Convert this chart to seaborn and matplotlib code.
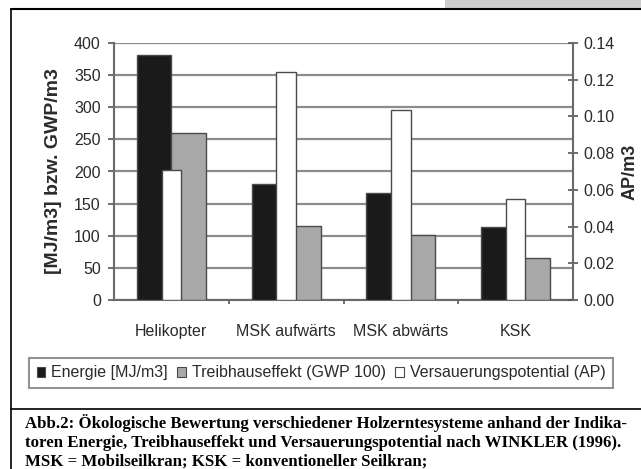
import matplotlib
matplotlib.use("Agg")
import matplotlib.pyplot as plt
import seaborn as sns
import pandas as pd
from matplotlib.lines import Line2D
from matplotlib.patches import Rectangle, Patch
from matplotlib.ticker import FixedLocator

# ---- data ----
categories = ["Helikopter", "MSK aufwärts", "MSK abwärts", "KSK"]
energie = [381, 180, 167, 113]          # MJ/m3 (left axis)
treibhaus = [260, 115, 101, 66]         # GWP/m3 (left axis)
versauerung = [0.071, 0.124, 0.1035, 0.055]  # AP/m3 (right axis)
left_ticks = [0, 50, 100, 150, 200, 250, 300, 350, 400]
right_ticks = [0.00, 0.02, 0.04, 0.06, 0.08, 0.10, 0.12, 0.14]
series_names = ["Energie [MJ/m3]", "Treibhauseffekt (GWP 100)", "Versauerungspotential (AP)"]
caption = ("Abb.2: Ökologische Bewertung verschiedener Holzerntesysteme anhand der Indika-\n"
           "toren Energie, Treibhauseffekt und Versauerungspotential nach WINKLER (1996).\n"
           "MSK = Mobilseilkran; KSK = konventioneller Seilkran;")

sns.set_style("white")
plt.rcParams["font.family"] = ["Liberation Sans", "DejaVu Sans"]

W, H = 641, 469
fig = plt.figure(figsize=(W / 100, H / 100), dpi=100)
fig.patch.set_facecolor("white")

def fx(x):
    return x / W

def fy(y):
    return 1 - y / H

ax = fig.add_axes([fx(114), fy(300), fx(573) - fx(114), fy(43) - fy(300)])
ax.set_facecolor("none")

black_c = "#1a1a1a"
grey_c = "#a8a8a8"
edge_c = "#4a4a4a"
text_c = "#2a2a2a"
grid_c = "#8c8c8c"

df = pd.DataFrame({
    "cat": categories * 2,
    "val": energie + treibhaus,
    "series": [series_names[0]] * 4 + [series_names[1]] * 4,
})
sns.barplot(data=df, x="cat", y="val", hue="series", order=categories,
            hue_order=series_names[:2], palette=[black_c, grey_c],
            width=0.6, gap=0, edgecolor=edge_c, linewidth=1.0,
            saturation=1, ax=ax, legend=False, zorder=3)

ax.set_ylim(0, 400)
ax.set_xlim(-0.5, 3.5)
ax.set_yticks(left_ticks)
ax.set_yticklabels([str(t) for t in left_ticks])
ax.yaxis.grid(True, color=grid_c, linewidth=1.6, zorder=0)
ax.set_axisbelow(True)
ax.set_xlabel("")
ax.set_ylabel("[MJ/m3] bzw. GWP/m3", fontsize=14, fontweight="bold", color=text_c, labelpad=9)

for s in ["top", "right"]:
    ax.spines[s].set_visible(False)
ax.spines["left"].set_color("#6a6a6a")
ax.spines["left"].set_linewidth(1.5)
ax.spines["bottom"].set_color("#6a6a6a")
ax.spines["bottom"].set_linewidth(1.5)

ax.tick_params(axis="y", direction="out", length=4.5, width=1.2, color="#555555",
               labelsize=11.5, labelcolor=text_c, pad=5, left=True)
ax.tick_params(axis="x", which="major", length=0, labelsize=11.5, labelcolor=text_c, pad=17)
ax.xaxis.set_minor_locator(FixedLocator([0.5, 1.5, 2.5]))
ax.tick_params(axis="x", which="minor", direction="out", length=3, width=1.2, color="#555555", bottom=True)

ax2 = ax.twinx()
ax2.set_facecolor("none")
sns.barplot(x=categories, y=versauerung, order=categories, color="white",
            width=0.17, edgecolor=edge_c, linewidth=1.0, saturation=1, ax=ax2, zorder=4)
ax2.set_ylim(0, 0.14)
ax2.set_xlim(-0.5, 3.5)
ax2.set_yticks(right_ticks)
ax2.set_yticklabels([f"{t:.2f}" for t in right_ticks])
ax2.tick_params(axis="y", direction="inout", length=7, width=1.2, color="#555555",
                labelsize=11.5, labelcolor=text_c, pad=4, right=True)
ax2.set_ylabel("AP/m3", fontsize=13, fontweight="bold", color=text_c, labelpad=5)
for s in ["top", "left", "bottom"]:
    ax2.spines[s].set_visible(False)
ax2.spines["right"].set_color("#6a6a6a")
ax2.spines["right"].set_linewidth(1.5)
ax2.grid(False)

# legend
handles = [Patch(facecolor=black_c, edgecolor=edge_c, linewidth=0.8),
           Patch(facecolor=grey_c, edgecolor=edge_c, linewidth=0.8),
           Patch(facecolor="white", edgecolor=edge_c, linewidth=0.8)]
leg = fig.legend(handles, series_names, ncol=3, loc="center",
                 bbox_to_anchor=(fx(321), fy(373)), fontsize=11.5, frameon=True,
                 fancybox=False, handlelength=0.55, handleheight=0.55, handletextpad=0.35,
                 columnspacing=0.6, borderpad=0.5, labelcolor=text_c)
leg.get_frame().set_edgecolor("#777777")
leg.get_frame().set_linewidth(1.5)

# frame decoration
fig.add_artist(Rectangle((fx(445), fy(9)), 1 - fx(445), 1 - fy(9), transform=fig.transFigure,
                         facecolor="#cccccc", edgecolor="none"))
fig.add_artist(Line2D([fx(11), 1], [fy(9), fy(9)], color="black", linewidth=1.5, transform=fig.transFigure))
fig.add_artist(Line2D([fx(11), fx(11)], [fy(9), 0], color="black", linewidth=1.2, transform=fig.transFigure))
fig.add_artist(Line2D([fx(11), 1], [fy(409), fy(409)], color="black", linewidth=1.2, transform=fig.transFigure))

fig.text(fx(25), fy(414), caption, ha="left", va="top", fontsize=12.1, fontweight="bold",
         family=["Liberation Serif", "DejaVu Serif"], color="black", linespacing=1.22)

fig.savefig("out.png", dpi=100, facecolor="white")
